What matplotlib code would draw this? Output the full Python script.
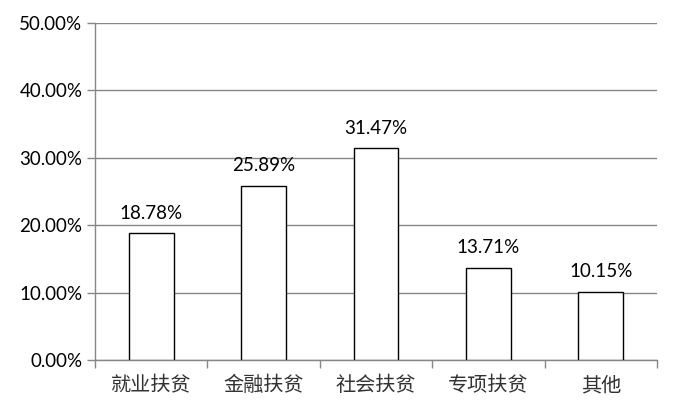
import matplotlib
matplotlib.use("Agg")
import matplotlib.pyplot as plt
from matplotlib.ticker import FixedLocator, FuncFormatter
import numpy as np

categories = ["就业扶贫", "金融扶贫", "社会扶贫", "专项扶贫", "其他"]
values = [18.78, 25.89, 31.47, 13.71, 10.15]
yticks = [0, 10, 20, 30, 40, 50]

plt.rcParams['font.family'] = ['Lato', 'Noto Sans CJK SC', 'DejaVu Sans']

fig = plt.figure(figsize=6.79 * np.array([1, 414 / 679]), dpi=100)
ax = fig.add_axes([95 / 679, 54 / 414, 562 / 679, 337 / 414])

x = np.arange(len(categories))
ax.bar(x, values, width=0.4, color='white', edgecolor='black', linewidth=1.0, zorder=3)

for xi, v in zip(x, values):
    ax.annotate(f"{v:.2f}%", (xi, v), xytext=(0, 8), textcoords='offset points',
                ha='center', va='bottom', fontsize=13.5, color='black')

ax.set_xlim(-0.5, len(categories) - 0.5)
ax.set_ylim(0, 50)
ax.set_yticks(yticks)
ax.yaxis.set_major_formatter(FuncFormatter(lambda v, p: f"{v:.2f}%"))
ax.yaxis.grid(True, color='#868686', linewidth=1.0, zorder=0)

ax.set_xticks(x)
ax.set_xticklabels(categories, fontsize=14.5, family=['Noto Sans CJK SC'], color='#333333')
ax.tick_params(axis='x', which='major', length=0, pad=11)
ax.xaxis.set_minor_locator(FixedLocator(np.arange(-0.5, len(categories), 1.0)))
ax.tick_params(axis='x', which='minor', length=6, color='#868686', width=1.0)
ax.tick_params(axis='y', length=6, color='#868686', width=1.0, labelsize=13.5, pad=3)

for s in ['top', 'right']:
    ax.spines[s].set_visible(False)
for s in ['left', 'bottom']:
    ax.spines[s].set_color('#868686')
    ax.spines[s].set_linewidth(1.0)

fig.savefig("out.png", dpi=100)
